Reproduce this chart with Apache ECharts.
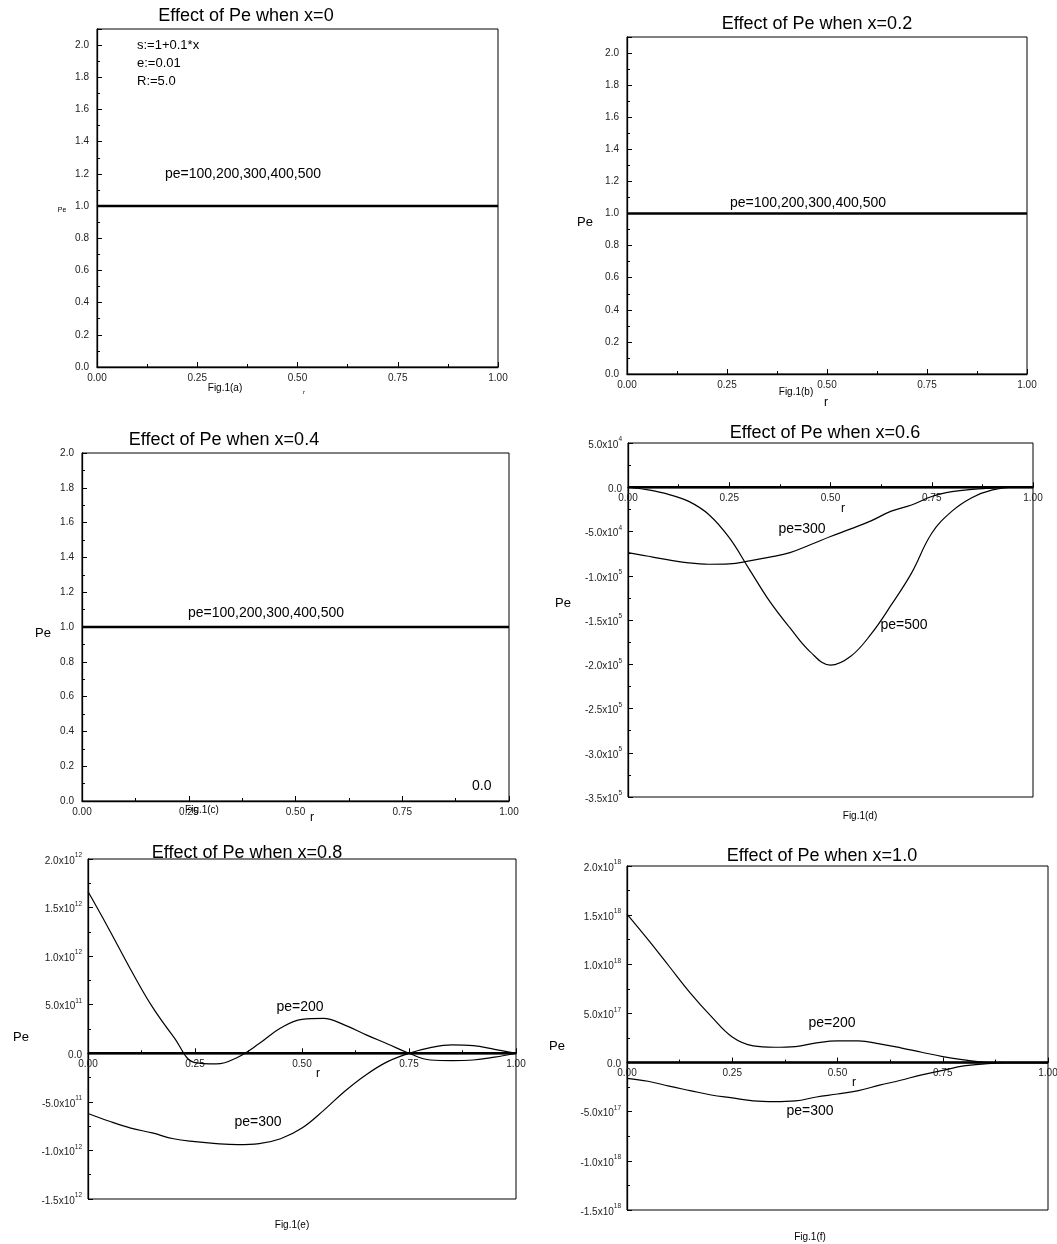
<!DOCTYPE html>
<html><head><meta charset="utf-8">
<script src="https://cdn.jsdelivr.net/npm/echarts@6/dist/echarts.min.js"></script>
<style>html,body{margin:0;padding:0;background:#fff}#c{width:1057px;height:1244px}</style>
</head><body><div id="c"></div>
<script>
// ---------------- data ----------------
const xTickLabels = ['0.00', '0.25', '0.50', '0.75', '1.00'];
const rFlat = [0, 1];
const flatA = [1, 1];        // pe=100,200,300,400,500 at x=0
const flatB = [1, 1];        // pe=100,200,300,400,500 at x=0.2
const flatC = [1, 1];        // pe=100,200,300,400,500 at x=0.4
const zeroFlat = [0, 0];     // remaining pe curves lying on zero
const rCurve = [0, 0.05, 0.1, 0.15, 0.2, 0.25, 0.3, 0.35, 0.4, 0.45, 0.5,
                0.55, 0.6, 0.65, 0.7, 0.75, 0.8, 0.85, 0.9, 0.95, 1.0];
// x=0.6 (units of 1e3)
const d_pe300 = [-73.8, -78, -82, -85.5, -87, -86.6, -83.2, -79, -73.8, -65, -55.7,
                 -47, -38, -27, -20, -10.5, -5, -2.3, -1, 0, 0];
const d_pe500 = [0, -3, -8, -16, -31, -57, -93, -129, -159, -186, -201,
                 -191, -166, -133, -97, -52, -27, -11.5, -3, 0, 0];
// x=0.8 (units of 1e11)
const e_pe200 = [16.65, 12.7, 8.6, 4.8, 1.7, -0.96, -1.1, -0.4, 1.0, 2.6, 3.5,
                 3.6, 2.9, 1.9, 0.96, 0, -0.69, -0.75, -0.69, -0.4, 0];
const e_pe300 = [-6.2, -7.0, -7.7, -8.2, -8.8, -9.1, -9.3, -9.4, -9.3, -8.8, -7.7,
                 -5.9, -3.9, -2.2, -0.86, 0, 0.58, 0.86, 0.79, 0.41, 0];
// x=1.0 (units of 1e17)
const f_pe200 = [15.1, 12.5, 9.8, 7.1, 4.7, 2.6, 1.7, 1.56, 1.63, 2.0, 2.2,
                 2.2, 1.9, 1.5, 1.05, 0.61, 0.27, 0.03, 0, 0, 0];
const f_pe300 = [-1.6, -1.9, -2.4, -2.85, -3.3, -3.6, -3.9, -3.97, -3.9, -3.5, -3.2,
                 -2.85, -2.3, -1.8, -1.25, -0.8, -0.34, -0.14, 0, 0, 0];
const scaleD = 1e3, scaleE = 1e11, scaleF = 1e17;

// ---------------- chart ----------------
const FONT = '"Liberation Sans", Arial, sans-serif';
const zip = (xs, ys, k) => xs.map((x, i) => [x, ys[i] * (k || 1)]);

const grids = [
  {left: 97,  top: 29,  width: 401, height: 338},
  {left: 627, top: 37,  width: 400, height: 337},
  {left: 82,  top: 453, width: 427, height: 348},
  {left: 628, top: 443, width: 405, height: 354},
  {left: 88,  top: 859, width: 428, height: 340},
  {left: 627, top: 866, width: 421, height: 344}
].map(g => Object.assign({show: true, borderColor: '#000', borderWidth: 1, backgroundColor: 'transparent', containLabel: false, outerBoundsMode: 'none'}, g));

const yRanges = [
  {min: 0, max: 2.1, interval: 0.2},
  {min: 0, max: 2.1, interval: 0.2},
  {min: 0, max: 2.0, interval: 0.2},
  {min: -3.5e5, max: 5e4, interval: 5e4},
  {min: -1.5e12, max: 2e12, interval: 5e11},
  {min: -1.5e18, max: 2e18, interval: 5e17}
];

function sciFmt(v) {
  if (v === 0) return '{m|0.0}';
  const e = Math.floor(Math.log10(Math.abs(v)) + 1e-9);
  const m = (v / Math.pow(10, e)).toFixed(1);
  return '{m|' + m + 'x10}{e|' + e + '}';
}

const axisCommon = {
  axisLine: {show: true, onZero: false, lineStyle: {color: '#000', width: 1.3}},
  axisTick: {show: true, inside: true, length: 5, lineStyle: {color: '#000', width: 1}},
  minorTick: {show: true, splitNumber: 2, length: 3, lineStyle: {color: '#000', width: 1}},
  splitLine: {show: false}
};

// x axis sits on the zero line: shift it up from the grid bottom
const xAxes = grids.map((g, i) => {
  const r = yRanges[i];
  const off = r.min < 0 ? -g.height * (0 - r.min) / (r.max - r.min) : 0;
  return Object.assign({}, axisCommon, {
    gridIndex: i, type: 'value', min: 0, max: 1, interval: 0.25,
    position: 'bottom', offset: off,
    axisLabel: {color: '#222', fontSize: 10, fontFamily: FONT, margin: 6,
      formatter: v => xTickLabels[Math.round(v / 0.25)]}
  });
});

const yAxes = yRanges.map((r, i) => Object.assign({}, axisCommon, {
  gridIndex: i, type: 'value', min: r.min, max: r.max, interval: r.interval,
  axisLabel: i < 3 ? {
    color: '#222', fontSize: 10, fontFamily: FONT, margin: 8, showMaxLabel: i === 2,
    formatter: v => (Math.abs(v / 0.2 - Math.round(v / 0.2)) < 1e-6) ? v.toFixed(1) : ''
  } : {
    color: '#222', margin: 6, formatter: sciFmt,
    rich: {
      m: {fontSize: 10, fontFamily: FONT, color: '#222', lineHeight: 14, verticalAlign: 'bottom'},
      e: {fontSize: 6.5, fontFamily: FONT, color: '#222', verticalAlign: 'top'}
    }
  }
}));

const flatStyle = {color: '#000', width: 2.4};
const curveStyle = {color: '#000', width: 1.2};
function line(i, name, data, style, smooth) {
  return {type: 'line', name, xAxisIndex: i, yAxisIndex: i, data, showSymbol: false,
    symbol: 'none', smooth: smooth || false, lineStyle: style, itemStyle: {color: '#000'},
    silent: true, z: 3};
}
const series = [
  line(0, 'pe=100,200,300,400,500', zip(rFlat, flatA), flatStyle),
  line(1, 'pe=100,200,300,400,500', zip(rFlat, flatB), flatStyle),
  line(2, 'pe=100,200,300,400,500', zip(rFlat, flatC), flatStyle),
  line(3, 'pe=100,200,400', zip(rFlat, zeroFlat), flatStyle),
  line(3, 'pe=300', zip(rCurve, d_pe300, scaleD), curveStyle, 0.4),
  line(3, 'pe=500', zip(rCurve, d_pe500, scaleD), curveStyle, 0.4),
  line(4, 'pe=100,400,500', zip(rFlat, zeroFlat), flatStyle),
  line(4, 'pe=200', zip(rCurve, e_pe200, scaleE), curveStyle, 0.4),
  line(4, 'pe=300', zip(rCurve, e_pe300, scaleE), curveStyle, 0.4),
  line(5, 'pe=100,400,500', zip(rFlat, zeroFlat), flatStyle),
  line(5, 'pe=200', zip(rCurve, f_pe200, scaleF), curveStyle, 0.4),
  line(5, 'pe=300', zip(rCurve, f_pe300, scaleF), curveStyle, 0.4)
];

function txt(text, x, y, size, align) {
  return {type: 'text', x, y, z: 100, silent: true,
    style: {text, fontSize: size, fontFamily: FONT, fill: '#000',
      align: align || 'center', verticalAlign: 'middle'}};
}
const graphic = [
  // titles
  txt('Effect of Pe when x=0', 246, 16, 18),
  txt('Effect of Pe when x=0.2', 817, 24, 18),
  txt('Effect of Pe when x=0.4', 224, 440, 18),
  txt('Effect of Pe when x=0.6', 825, 433, 18),
  txt('Effect of Pe when x=0.8', 247, 853, 18),
  txt('Effect of Pe when x=1.0', 822, 856, 18),
  // panel a
  txt('s:=1+0.1*x', 137, 45, 13, 'left'),
  txt('e:=0.01', 137, 63, 13, 'left'),
  txt('R:=5.0', 137, 81, 13, 'left'),
  txt('pe=100,200,300,400,500', 165, 174, 14, 'left'),
  txt('Pe', 62, 210, 7),
  txt('r', 304, 392, 6),
  txt('Fig.1(a)', 225, 388, 10),
  // panel b
  txt('pe=100,200,300,400,500', 730, 203, 14, 'left'),
  txt('Pe', 585, 222, 13),
  txt('r', 826, 403, 12),
  txt('Fig.1(b)', 796, 392, 10),
  // panel c
  txt('pe=100,200,300,400,500', 188, 613, 14, 'left'),
  txt('0.0', 472, 786, 14, 'left'),
  txt('Pe', 43, 633, 13),
  txt('r', 312, 818, 12),
  txt('Fig.1(c)', 202, 810, 10),
  // panel d
  txt('pe=300', 802, 529, 14),
  txt('pe=500', 904, 625, 14),
  txt('Pe', 563, 603, 13),
  txt('r', 843, 509, 12),
  txt('Fig.1(d)', 860, 816, 10),
  // panel e
  txt('pe=200', 300, 1007, 14),
  txt('pe=300', 258, 1122, 14),
  txt('Pe', 21, 1037, 13),
  txt('r', 318, 1074, 12),
  txt('Fig.1(e)', 292, 1225, 10),
  // panel f
  txt('pe=200', 832, 1023, 14),
  txt('pe=300', 810, 1111, 14),
  txt('Pe', 557, 1046, 13),
  txt('r', 854, 1083, 12),
  txt('Fig.1(f)', 810, 1237, 10)
];

const chart = echarts.init(document.getElementById('c'), null, {renderer: 'canvas'});
chart.setOption({
  animation: false,
  backgroundColor: '#fff',
  grid: grids,
  xAxis: xAxes,
  yAxis: yAxes,
  series,
  graphic
});
</script>
</body></html>
